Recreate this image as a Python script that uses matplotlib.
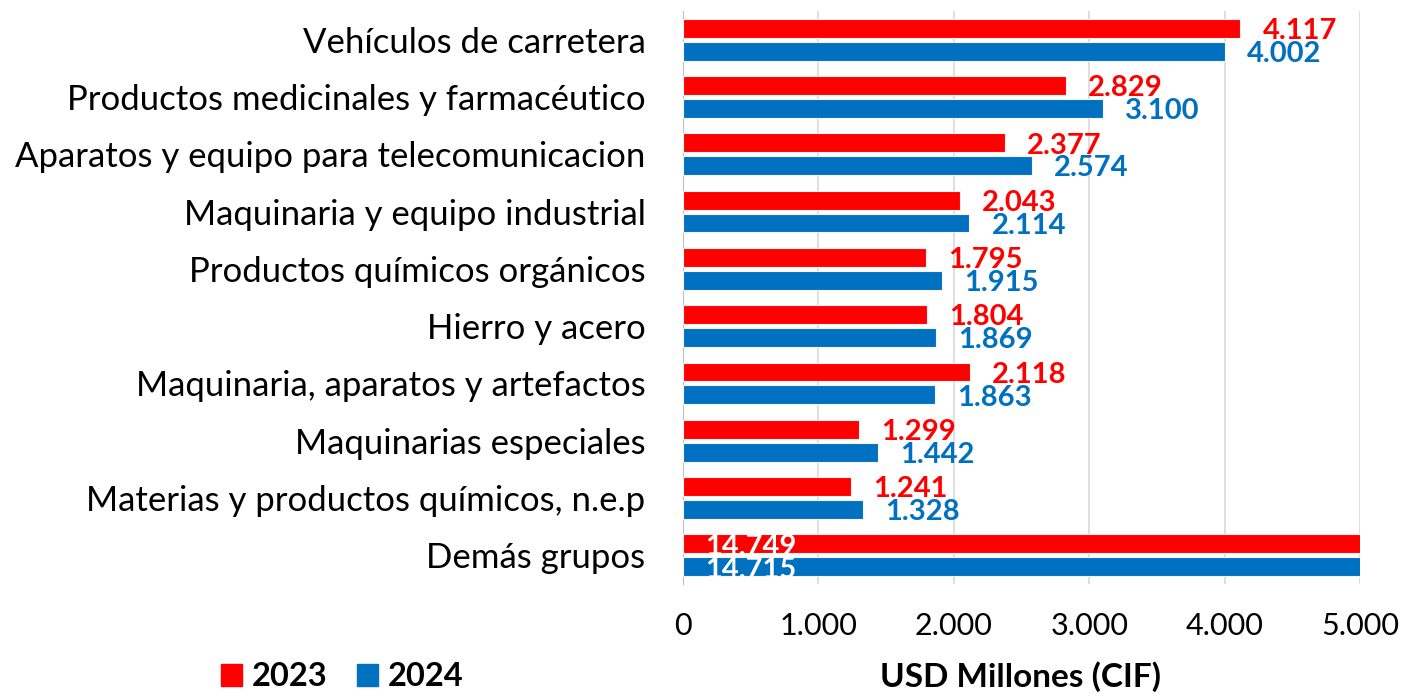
import matplotlib.pyplot as plt
import numpy as np
from matplotlib.patches import Patch

plt.rcParams['font.family'] = ['Lato', 'DejaVu Sans']

categorias = ["Vehículos de carretera",
              "Productos medicinales y farmacéutico",
              "Aparatos y equipo para telecomunicacion",
              "Maquinaria y equipo industrial",
              "Productos químicos orgánicos",
              "Hierro y acero",
              "Maquinaria, aparatos y artefactos",
              "Maquinarias especiales",
              "Materias y productos químicos, n.e.p",
              "Demás grupos"]
v2023 = [4117, 2829, 2377, 2043, 1795, 1804, 2118, 1299, 1241, 14749]
v2024 = [4002, 3100, 2574, 2114, 1915, 1869, 1863, 1442, 1328, 14715]
xticks = [0, 1000, 2000, 3000, 4000, 5000]

ROJO = "#FF0000"
AZUL = "#0070C0"
XMAX = 5000


def fmt(v):
    return f"{v:,}".replace(",", ".")


fig = plt.figure(figsize=(14.02, 6.98), dpi=100)
ax = fig.add_axes([683 / 1402, 1 - 584 / 698, (1360 - 683) / 1402, 573 / 698])

y = np.arange(len(categorias))
h = 0.33
ax.barh(y - 0.2, v2023, height=h, color=ROJO, edgecolor="#f4f4f4", linewidth=0.8, zorder=3)
ax.barh(y + 0.2, v2024, height=h, color=AZUL, edgecolor="#f4f4f4", linewidth=0.8, zorder=3)

# etiquetas de valor
for i, (a, b) in enumerate(zip(v2023, v2024)):
    for v, off, col in [(a, -0.2, ROJO), (b, 0.2, AZUL)]:
        if v > XMAX:
            ax.annotate(fmt(v), xy=(0, i + off), xytext=(16, -2), textcoords="offset points",
                        ha="left", va="center", color="white", fontsize=21, fontweight="bold",
                        zorder=4)
        else:
            ax.annotate(fmt(v), xy=(v, i + off), xytext=(16, -2),
                        textcoords="offset points", ha="left", va="center", color=col,
                        fontsize=21, fontweight="bold", zorder=4, annotation_clip=False)

ax.set_xlim(0, XMAX)
ax.set_ylim(len(categorias) - 0.5, -0.5)
ax.set_yticks(y)
ax.set_yticklabels(categorias, fontsize=25)
ax.set_xticks(xticks)
ax.set_xticklabels([fmt(t) for t in xticks], fontsize=22)
ax.tick_params(axis="both", length=0)
ax.tick_params(axis="x", pad=20)
ax.tick_params(axis="y", pad=27)

ax.grid(axis="x", color="#d9d9d9", linewidth=1.2, zorder=0)
for s in ["top", "right", "bottom"]:
    ax.spines[s].set_visible(False)
ax.spines["left"].set_color("#bfbfbf")

fig.text(1020 / 1402, 1 - 677 / 698, "USD Millones (CIF)", ha="center", va="center",
         fontsize=24, fontweight="bold")

handles = [Patch(color=ROJO, label="2023"), Patch(color=AZUL, label="2024")]
fig.legend(handles=handles, loc="center", bbox_to_anchor=(342 / 1402, 1 - 677 / 698),
           ncol=2, frameon=False, prop={"size": 23.5, "weight": "bold"},
           handlelength=0.65, handleheight=0.65, handletextpad=0.3, columnspacing=0.9)

fig.savefig("out.png", dpi=100)
